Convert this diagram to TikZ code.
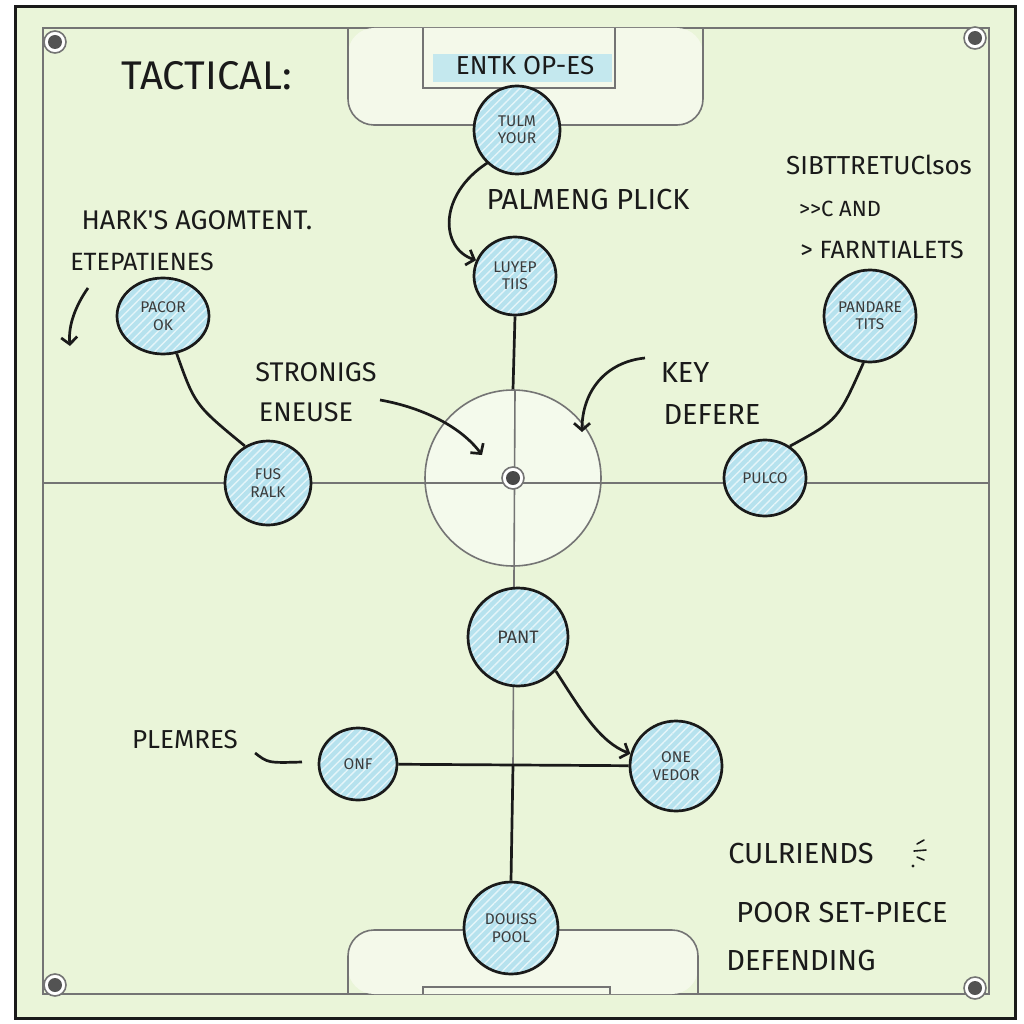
\documentclass[tikz,border=0pt]{standalone}
\usepackage{fontspec}
\newfontfamily\hand{Fira Sans}
\usetikzlibrary{arrows.meta,patterns.meta,shapes.geometric}
\definecolor{fieldgreen}{HTML}{EAF5D9}
\definecolor{linegray}{HTML}{747474}
\definecolor{nodeblue}{HTML}{B6E2EE}
\definecolor{ink}{HTML}{1A1A1A}
\definecolor{hilite}{HTML}{C4E8EE}
\begin{document}
\begin{tikzpicture}[x=1pt,y=-1pt,
  player/.style={ellipse, draw=ink, line width=2.7pt, preaction={fill=nodeblue},
    pattern={Lines[angle=45,distance=6pt,line width=1.4pt]}, pattern color=white!65!nodeblue,
    text=ink!85, font=\hand\fontsize{15.5}{17.5}\selectfont, align=center, inner sep=0pt},
  lab/.style={font=\hand\fontsize{29}{36}\selectfont, text=ink, inner sep=0pt, align=left},
  field/.style={draw=linegray, line width=1.6pt},
  conn/.style={draw=ink, line width=2.7pt},
  arr/.style={draw=ink, line width=2.7pt, -{Straight Barb[length=7pt,width=16pt,line width=2.7pt]}},
  spotmark/.style={fill=white, draw=linegray, line width=1.6pt}
]
\useasboundingbox (0,0) rectangle (1024,1024);
\fill[white] (0,0) rectangle (1024,1024);
% pitch
\filldraw[fill=fieldgreen, draw=ink, line width=3pt] (15,7) rectangle (1015,1018);
\draw[field] (43,28) rectangle (989,994);
% penalty boxes
\fill[white!45!fieldgreen, rounded corners=26] (348,28) -- (348,125) -- (703,125) -- (703,28) -- cycle;
\draw[field, rounded corners=26] (348,28) -- (348,125) -- (703,125) -- (703,28);
\fill[hilite] (433,54) rectangle (612,82);
\draw[field] (423,28) -- (423,88) -- (615,88) -- (615,28);
\fill[white!45!fieldgreen, rounded corners=26] (348,994) -- (348,930) -- (698,930) -- (698,994) -- cycle;
\draw[field, rounded corners=26] (348,994) -- (348,930) -- (698,930) -- (698,994);
\draw[field] (423,994) -- (423,987) -- (610,987) -- (610,994);
% halfway line and centre circle
\node[circle, minimum size=176pt, fill=white!50!fieldgreen, field] (cc) at (513,478) {};
\draw[field] (43,483) -- (989,483);
\draw[field] (515,390) -- (513,765);
\filldraw[spotmark] (513,478) circle (11);
\fill[ink!80] (513,478) circle (7);
% corner marks
\foreach \p in {(55,42),(975,38),(55,985),(975,988)} {
  \filldraw[spotmark] \p circle (11);
  \fill[ink!75] \p circle (7);
}
% players
\node[player, minimum width=86pt, minimum height=88pt] (n1) at (517,130) {TULM\\YOUR};
\node[player, minimum width=82pt, minimum height=78pt] (n2) at (515,276) {LUYEP\\TIIS};
\node[player, minimum width=92pt, minimum height=76pt] (n3) at (163,316) {PACOR\\OK};
\node[player, minimum width=86pt, minimum height=84pt] (n4) at (268,483) {FUS\\RALK};
\node[player, minimum width=92pt, minimum height=92pt] (n5) at (870,316) {PANDARE\\TITS};
\node[player, minimum width=82pt, minimum height=76pt] (n6) at (765,478) {PULCO};
\node[player, minimum width=100pt, minimum height=98pt, font=\hand\fontsize{18}{20}\selectfont] (n7) at (518,637) {PANT};
\node[player, minimum width=78pt, minimum height=72pt] (n8) at (358,764) {ONF};
\node[player, minimum width=92pt, minimum height=90pt] (n9) at (676,766) {ONE\\VEDOR};
\node[player, minimum width=94pt, minimum height=92pt] (n10) at (511,928) {DOUISS\\POOL};
% connectors
\coordinate (j) at (513,765);
\draw[conn] (n2.south) -- (cc.north);
\draw[conn] (n8) -- (n9);
\draw[conn] (j) -- (n10.north);
\draw[conn] (n3.290) .. controls (195,405) .. (n4.122);
\draw[conn] (n5.262) .. controls (838,420) .. (n6.52);
\draw[arr] (n1.228) .. controls (438,195) and (440,248) .. (n2.158);
\draw[arr] (n7.318) .. controls (582,712) and (600,742) .. (n9.165);
% labels
\node[lab, font=\hand\fontsize{40}{44}\selectfont] (title) at (207,76) {TACTICAL:};
\node[lab, font=\hand\fontsize{26}{30}\selectfont] (goal) at (525,66) {ENTK OP-ES};
\node[lab] (palm) at (588,200) {PALMENG PLICK};
\node[lab, font=\hand\fontsize{27}{30}\selectfont] (hark) at (197,220) {HARK'S AGOMTENT.};
\node[lab, font=\hand\fontsize{25}{30}\selectfont] (etep) at (142,262) {ETEPATIENES};
\node[lab, font=\hand\fontsize{26}{30}\selectfont] (sibt) at (879,165) {SIBTTRETUClsos};
\node[lab, font=\hand\fontsize{22}{26}\selectfont] (cand) at (840,209) {>{}>C AND};
\node[lab, font=\hand\fontsize{25}{30}\selectfont] (farn) at (882,250) {> FARNTIALETS};
\node[lab, font=\hand\fontsize{27}{30}\selectfont] (stro) at (316,372) {STRONIGS};
\node[lab, font=\hand\fontsize{27}{30}\selectfont] (eneu) at (306,412) {ENEUSE};
\node[lab] (key) at (685,373) {KEY};
\node[lab] (defe) at (712,415) {DEFERE};
\node[lab, font=\hand\fontsize{26}{30}\selectfont] (plem) at (185,740) {PLEMRES};
\node[lab] (culr) at (801,853) {CULRIENDS};
\node[lab] (poor) at (842,912) {POOR SET-PIECE};
\node[lab] (defd) at (801,960) {DEFENDING};
% free-ended arrows
\coordinate (a1s) at (88,288);
\coordinate (a1e) at (70,346);
\draw[arr] (a1s) .. controls (76,305) and (68,325) .. (a1e);
\coordinate (a2s) at (380,400);
\coordinate (a2e) at (482,455);
\draw[arr] (a2s) .. controls (425,408) and (462,428) .. (a2e);
\coordinate (a3s) at (645,358);
\coordinate (a3e) at (582,432);
\draw[arr] (a3s) .. controls (605,362) and (582,392) .. (a3e);
\coordinate (pd) at (302,762);
\draw[conn] ([xshift=17pt,yshift=-13pt]plem.east) .. controls (268,763) .. (pd);
% squiggle
\draw[conn, line width=1.6pt, line cap=round] (917,844) -- (924,840);
\draw[conn, line width=1.6pt, line cap=round] (914,851) -- (926,850);
\draw[conn, line width=1.6pt, line cap=round] (917,857) -- (924,860);
\fill[ink] (913,866) circle (1.6);
\end{tikzpicture}
\end{document}
